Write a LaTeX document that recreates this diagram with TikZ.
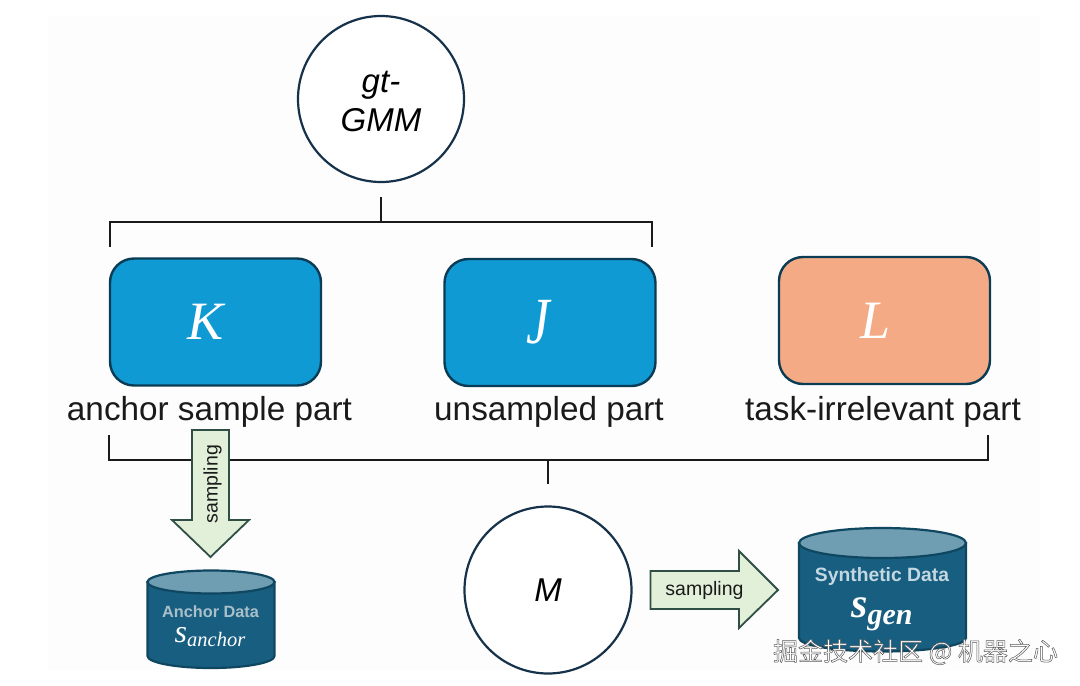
\documentclass[tikz,border=0pt]{standalone}
\usepackage{fontspec}
\setmainfont{Liberation Sans}
\newfontfamily\mathserif{Liberation Serif}
\newfontfamily\cjk{Noto Sans CJK SC}
\definecolor{linek}{HTML}{1A1A1A}
\definecolor{ringedge}{HTML}{16324A}
\definecolor{bluefill}{HTML}{0F9AD3}
\definecolor{blueedge}{HTML}{0B3C55}
\definecolor{orangefill}{HTML}{F4AB85}
\definecolor{greenfill}{HTML}{E2F0D9}
\definecolor{greenedge}{HTML}{2F4F45}
\definecolor{cylbody}{HTML}{175E80}
\definecolor{cyltop}{HTML}{6F9DB2}
\definecolor{cyledge}{HTML}{0F4761}
\definecolor{bgcol}{HTML}{FDFDFD}
\definecolor{AnchorC}{HTML}{A9BFCA}
\definecolor{SynthC}{HTML}{C4D8E2}
\newcommand{\fs}[1]{\fontsize{#1}{#1}\selectfont}
\tikzset{
  x=1pt,y=-1pt,
  ringnode/.style={circle,draw=ringedge,line width=2.2pt,fill=white,minimum size=166pt,inner sep=0pt,align=center,font=\fs{33}\itshape},
  partbox/.style={rounded corners=24pt,draw=blueedge,line width=2.4pt,minimum width=211pt,minimum height=127pt,inner sep=0pt,text=white,font=\mathserif\fs{54}\itshape},
  partlabel/.style={inner sep=0pt,font=\fs{33.3},text=linek,anchor=base},
  bracket/.style={draw=linek,line width=2.5pt},
  samplearrow/.style={draw=greenedge,line width=1.8pt,fill=greenfill,line join=miter},
  samplelabel/.style={inner sep=0pt,font=\fs{19.5},text=linek},
  cylside/.style={draw=cyledge,line width=2.2pt,fill=cylbody},
  cyllid/.style={draw=cyledge,line width=2.2pt,fill=cyltop},
}
\begin{document}
\begin{tikzpicture}
\useasboundingbox (0,0) rectangle (1080,686);
\fill[bgcol] (48,16) rectangle (1040,670);

% circles
\node[ringnode] (gmm) at (381,99) {\rule{0pt}{27pt}gt-\\[6pt]GMM};
\node[ringnode,minimum size=167pt] (m) at (548,590) {M};

% part boxes
\node[partbox,fill=bluefill] (k) at (215.5,322) {\hspace*{-19pt}K};
\node[partbox,fill=bluefill] (j) at (550,322.5) {\hspace*{-24pt}\raisebox{-4pt}{\scalebox{0.8}[1]{\fs{66}J}}};
\node[partbox,fill=orangefill] (l) at (884.5,320.5) {\hspace*{-17pt}L};

% part labels
\node[partlabel] (kl) at (209.5,420) {anchor sample part};
\node[partlabel] (jl) at (549,420) {unsampled part};
\node[partlabel] (ll) at (883,420) {task-irrelevant part};

% upper bracket
\coordinate (topjoin) at (381,222);
\coordinate (topstem) at (381,197);
\coordinate (topleft) at (110,247);
\coordinate (topright) at (652,247);
\draw[bracket] (topstem) -- (topjoin);
\draw[bracket,line join=miter] (topleft) |- (topjoin) -| (topright);

% lower bracket
\coordinate (lowjoin) at (548,460);
\coordinate (lowleft) at (109,435);
\coordinate (lowright) at (988,435);
\coordinate (lowstem) at (548,484);
\draw[bracket] (lowjoin) -- (lowstem);
\draw[bracket,line join=miter] (lowleft) |- (lowjoin) -| (lowright);

% down arrow
\draw[samplearrow] (192,430) -- (229,430) -- (229,520) -- (249,520) -- (210.5,557) -- (172,520) -- (192,520) -- cycle;
\node[samplelabel,rotate=90] (s1) at (212.5,484) {sampling};

% right arrow
\draw[samplearrow] (650.5,571) -- (739,571) -- (739,551) -- (778,590) -- (739,628) -- (739,609) -- (650.5,609) -- cycle;
\node[samplelabel] (s2) at (704.5,590) {sampling};

% anchor cylinder
\draw[cylside] (147.5,582) -- (147.5,656) arc[start angle=180,end angle=0,x radius=63.5,y radius=12] -- (274.5,582) -- cycle;
\draw[cyllid] (211,582) ellipse[x radius=63.5,y radius=11.5];
\node[inner sep=0pt,font=\bfseries\fs{16.3},text=AnchorC] (a1) at (210.5,612) {Anchor Data};
\node[inner sep=0pt,text=white,font=\mathserif\itshape] (a2) at (210,642) {\smash{{\fs{32}s}\raisebox{-4pt}{\fs{20.5}anchor}}};

% synthetic cylinder
\draw[cylside] (799,543) -- (799,638) arc[start angle=180,end angle=0,x radius=83.5,y radius=13.5] -- (966,543) -- cycle;
\draw[cyllid] (882.5,543) ellipse[x radius=83.5,y radius=15];
\node[inner sep=0pt,font=\bfseries\fs{19.3},text=SynthC] (b1) at (882,577) {Synthetic Data};
\node[inner sep=0pt,text=white,font=\mathserif\itshape\bfseries] (b2) at (882,617) {\smash{{\fs{42}s}\raisebox{-7pt}{\fs{30}gen}}};

% watermark
\node[inner sep=0pt,text=white,font=\cjk\fs{25}] (wm) at (915.5,652) {\special{pdf:code 0.35 G 2 Tr 0.5 w}掘金技术社区 @ 机器之心\special{pdf:code 0 Tr 1 w}};
\end{tikzpicture}
\end{document}
